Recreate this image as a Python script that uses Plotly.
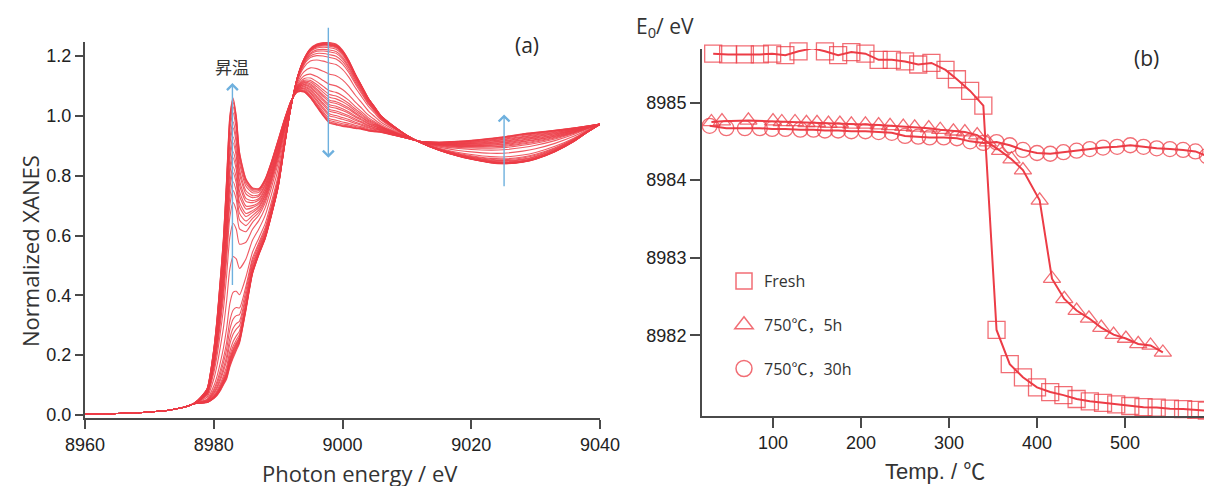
import plotly.graph_objects as go

# ---------------- (a) XANES spectra ----------------
energy = [8960, 8965, 8970, 8973, 8975, 8976, 8977, 8978, 8979, 8980, 8980.5, 8981, 8981.5,
          8982, 8982.5, 8983, 8983.5, 8984, 8985, 8986, 8987, 8988, 8989, 8990, 8991, 8992,
          8993, 8994, 8995, 8996, 8997, 8998, 8999, 9000, 9001, 9002, 9003, 9004, 9005, 9006,
          9008, 9010, 9012, 9015, 9018, 9020, 9023, 9025, 9028, 9030, 9033, 9036, 9038, 9040]

# lowest-temperature spectrum
xanes_start = [0.003, 0.005, 0.010, 0.016, 0.024, 0.030, 0.038, 0.040, 0.042, 0.055, 0.065, 0.080, 0.100,
               0.120, 0.160, 0.190, 0.215, 0.240, 0.350, 0.470, 0.535, 0.590, 0.670, 0.760, 0.900, 1.030,
               1.130, 1.190, 1.225, 1.240, 1.245, 1.245, 1.240, 1.220, 1.185, 1.140, 1.100, 1.060, 1.030, 1.000,
               0.965, 0.935, 0.912, 0.885, 0.865, 0.855, 0.843, 0.840, 0.845, 0.855, 0.880, 0.915, 0.945, 0.972]

# highest-temperature spectrum
xanes_end = [0.003, 0.005, 0.010, 0.016, 0.024, 0.030, 0.040, 0.060, 0.090, 0.220, 0.320, 0.450, 0.590,
             0.790, 1.000, 1.060, 1.000, 0.880, 0.790, 0.760, 0.757, 0.790, 0.850, 0.920, 0.990, 1.050,
             1.080, 1.080, 1.060, 1.030, 1.000, 0.975, 0.970, 0.965, 0.962, 0.958, 0.955, 0.950, 0.947, 0.945,
             0.935, 0.925, 0.915, 0.912, 0.915, 0.918, 0.925, 0.930, 0.940, 0.945, 0.952, 0.960, 0.966, 0.973]

peak_heights = [0.190, 0.195, 0.200, 0.205, 0.210, 0.215, 0.220, 0.230, 0.245, 0.270, 0.290, 0.320,
                0.350, 0.410, 0.530, 0.640, 0.710, 0.750, 0.780, 0.810, 0.830, 0.860, 0.880, 0.910,
                0.930, 0.960, 0.980, 1.010, 1.030, 1.045, 1.055, 1.060]

# ---------------- (b) edge energy vs temperature ----------------
fresh_T = [32, 49, 68, 85, 99, 114, 129, 145, 159, 174, 189, 205, 220, 235, 250, 265, 280, 296, 309, 324, 339,
           354, 369, 384, 400, 415, 430, 445, 460, 475, 490, 506, 521, 536, 551, 566, 581, 593]
fresh_E = [8985.63, 8985.62, 8985.62, 8985.62, 8985.63, 8985.61, 8985.66, 8985.70, 8985.66, 8985.61, 8985.65,
           8985.63, 8985.55, 8985.55, 8985.53, 8985.49, 8985.51, 8985.42, 8985.30, 8985.15, 8984.96,
           8982.07, 8981.63, 8981.46, 8981.33, 8981.27, 8981.23, 8981.18, 8981.15, 8981.13, 8981.11, 8981.09,
           8981.075, 8981.07, 8981.055, 8981.05, 8981.04, 8981.03]

h5_T = [30, 42, 72, 100, 110, 125, 138, 150, 163, 176, 189, 205, 220, 233, 248, 261, 277, 290, 305, 318, 332,
        344, 358, 371, 384, 403, 417, 431, 445, 459, 473, 487, 501, 515, 529, 543]
h5_E = [8984.75, 8984.76, 8984.77, 8984.76, 8984.75, 8984.75, 8984.74, 8984.74, 8984.73, 8984.73, 8984.72,
        8984.72, 8984.71, 8984.70, 8984.69, 8984.68, 8984.67, 8984.65, 8984.63, 8984.62, 8984.58,
        8984.49, 8984.38, 8984.27, 8984.13, 8983.74, 8982.73, 8982.47, 8982.32, 8982.22, 8982.10, 8982.01,
        8981.96, 8981.89, 8981.87, 8981.78]

h30_T = [28, 47, 68, 85, 99, 114, 131, 146, 159, 174, 189, 205, 220, 235, 250, 265, 278, 294, 309, 324, 339,
         354, 369, 384, 400, 415, 430, 445, 460, 475, 491, 506, 521, 536, 551, 566, 580, 593]
h30_E = [8984.70, 8984.67, 8984.67, 8984.67, 8984.66, 8984.66, 8984.65, 8984.65, 8984.64, 8984.64, 8984.63,
         8984.63, 8984.62, 8984.61, 8984.57, 8984.56, 8984.55, 8984.55, 8984.54, 8984.50, 8984.48,
         8984.49, 8984.45, 8984.39, 8984.35, 8984.34, 8984.36, 8984.38, 8984.40, 8984.42, 8984.43, 8984.45,
         8984.43, 8984.41, 8984.40, 8984.39, 8984.37, 8984.31]

series_names = ["Fresh", "750\u2103\uff0c5h", "750\u2103\uff0c30h"]
tick_a_x = [8960, 8980, 9000, 9020, 9040]
tick_a_y = [0.0, 0.2, 0.4, 0.6, 0.8, 1.0, 1.2]
tick_b_x = [100, 200, 300, 400, 500]
tick_b_y = [8982, 8983, 8984, 8985]

W, H, OFF = 1212, 486, 8  # page body margin offsets the figure by 8 px


def X(px):
    return (px - OFF) / W


def Y(py):
    return 1 - (py - OFF) / H


RED = "rgb(236,60,70)"
RED_M = "rgba(236,60,70,0.75)"
BLUE = "rgb(110,176,222)"
AXC = "#4a4a4a"
TICKFONT = dict(family="Liberation Sans, Arial, sans-serif", size=18, color="#222")

fig = go.Figure()

h0 = xanes_start[energy.index(8983)]
h1 = xanes_end[energy.index(8983)]
for h in peak_heights:
    f = (h - h0) / (h1 - h0)
    y = [a + f * (b - a) for a, b in zip(xanes_start, xanes_end)]
    fig.add_trace(go.Scatter(x=energy, y=y, mode="lines", xaxis="x", yaxis="y",
                             line=dict(color="rgba(236,60,70,0.85)", width=1.1, shape="spline", smoothing=0.6),
                             showlegend=False, hoverinfo="skip"))

symbols = ["square-open", "triangle-up-open", "circle-open"]
sizes = [17, 15, 15]
for T, E, sym, sz in zip([fresh_T, h5_T, h30_T], [fresh_E, h5_E, h30_E], symbols, sizes):
    fig.add_trace(go.Scatter(x=T, y=E, mode="lines+markers", xaxis="x2", yaxis="y2",
                             line=dict(color=RED, width=2),
                             marker=dict(symbol=sym, size=sz, color=RED_M, line=dict(width=1.3, color=RED_M)),
                             showlegend=False, cliponaxis=False))

for i, (name, sym) in enumerate(zip(series_names, symbols)):
    fig.add_trace(go.Scatter(x=[None], y=[None], mode="markers", xaxis="x2", yaxis="y2", name=name,
                             legendgroup=f"g{i}",
                             marker=dict(symbol=sym, size=18, color=RED_M, line=dict(width=1.5, color=RED_M))))

common_axis = dict(showline=True, linecolor=AXC, linewidth=2, ticks="outside", tickcolor=AXC,
                   tickwidth=1.5, showgrid=False, zeroline=False, tickfont=TICKFONT, automargin=False)

fig.update_layout(
    width=W, height=H,
    margin=dict(l=0, r=0, t=0, b=0),
    paper_bgcolor="white", plot_bgcolor="white",
    xaxis=dict(domain=[X(85), X(600)], range=[8960, 9040], anchor="y",
               tickvals=tick_a_x, ticklen=9, **common_axis),
    yaxis=dict(domain=[Y(418), Y(42)], range=[-0.01, 1.247], anchor="x",
               tickvals=tick_a_y, ticktext=[f"{v:.1f}" for v in tick_a_y], ticklen=8, **common_axis),
    xaxis2=dict(domain=[X(702), X(1208)], range=[19.3, 594.3], anchor="y2",
                tickvals=tick_b_x, ticklen=10, **common_axis),
    yaxis2=dict(domain=[Y(415.7), Y(49)], range=[8980.965, 8985.69], anchor="x2",
                tickvals=tick_b_y, ticklen=10, **common_axis),
    legend=dict(x=X(724), y=Y(264), xanchor="left", yanchor="top",
                font=dict(family="Open Sans, Noto Sans CJK JP, sans-serif", size=16, color="#333"),
                bgcolor="rgba(0,0,0,0)", tracegroupgap=20, itemwidth=30),
    showlegend=True,
)

TXT = "#2a2a2a"


def label(text, px, py, size, family="Open Sans, sans-serif", color="#333", angle=0):
    return dict(text=text, x=X(px), y=Y(py), xref="paper", yref="paper", showarrow=False,
                xanchor="center", yanchor="middle", textangle=angle,
                font=dict(family=family, size=size, color=color))


ann = [
    label("(a)", 527, 45, 21, color=TXT),
    label("(b)", 1146, 58, 21, color=TXT),
    label("\u6607\u6e29", 232, 66, 17, family="Noto Sans CJK JP, sans-serif"),
    label("Normalized XANES", 30, 251, 22, angle=-90),
    label("Photon energy / eV", 360, 473, 22),
    label("Temp. / \u2103", 935, 471, 22, family="Liberation Sans, Noto Sans CJK JP, sans-serif"),
    label("E<sub>0</sub>/ eV", 665, 27, 21),
]
# arrows (head, tail)
for hx, hy, tx, ty in [(8982.9, 1.11, 8982.9, 0.43), (8997.8, 0.86, 8997.8, 1.30), (9025.1, 1.005, 9025.1, 0.76)]:
    ann.append(dict(text="", x=hx, y=hy, ax=tx, ay=ty, xref="x", yref="y", axref="x", ayref="y",
                    showarrow=True, arrowhead=4, arrowsize=1.5, arrowwidth=1.4, arrowcolor=BLUE))
fig.update_layout(annotations=ann)

fig.write_html("out.html")
